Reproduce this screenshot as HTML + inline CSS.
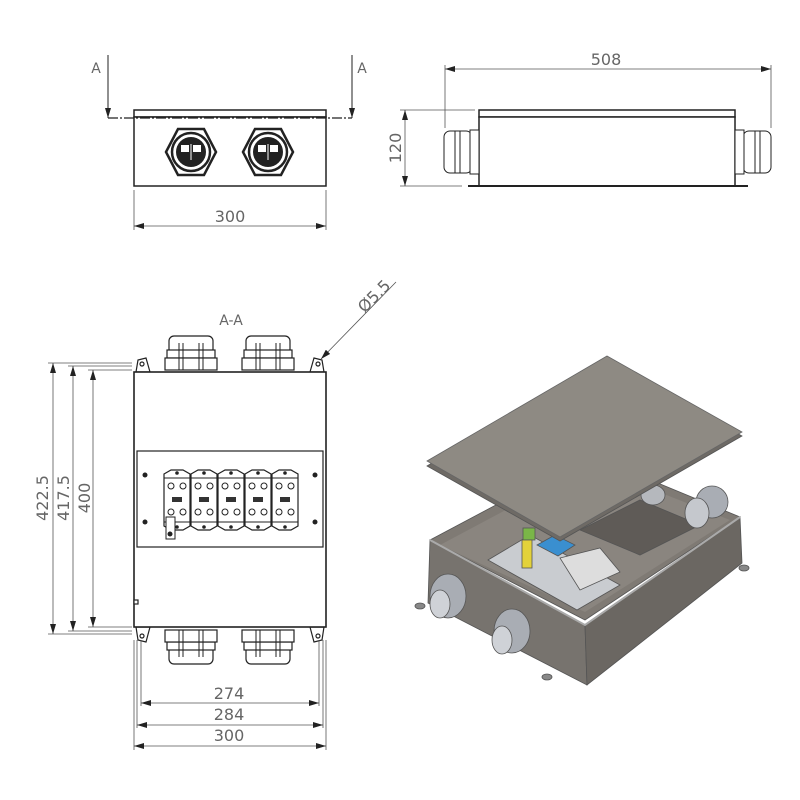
<!DOCTYPE html>
<html><head><meta charset="utf-8"><style>
html,body{margin:0;padding:0;background:#fff}
svg{display:block}
text{font-family:"DejaVu Sans","Liberation Sans",sans-serif;fill:#666}
</style></head><body>
<svg width="800" height="800" viewBox="0 0 800 800" xmlns="http://www.w3.org/2000/svg">
<defs>
<marker id="ar" viewBox="0 0 10 6" refX="10" refY="3" markerWidth="10" markerHeight="6" orient="auto-start-reverse" markerUnits="userSpaceOnUse"><path d="M0,0 L10,3 L0,6 z" fill="#222"/></marker>
<g id="gt">
  <rect x="-22" y="-21" width="44" height="18" rx="5" fill="#fff" stroke="#222" stroke-width="1.2"/>
  <rect x="-24" y="-7" width="48" height="8" fill="#fff" stroke="#222" stroke-width="1.2"/>
  <rect x="-26" y="1" width="52" height="12" fill="#fff" stroke="#222" stroke-width="1.2"/>
  <line x1="-12" y1="-14" x2="-12" y2="13" stroke="#222"/><line x1="-8" y1="-14" x2="-8" y2="13" stroke="#222"/>
  <line x1="8" y1="-14" x2="8" y2="13" stroke="#222"/><line x1="12" y1="-14" x2="12" y2="13" stroke="#222"/>
</g>
<g id="term">
  <path d="M-13,-26 L-6,-30 L6,-30 L13,-26 L13,26 L6,30 L-6,30 L-13,26 z" fill="#fff" stroke="#222" stroke-width="1.2"/>
  <circle cx="-6" cy="-14" r="3" fill="none" stroke="#222"/><circle cx="6" cy="-14" r="3" fill="none" stroke="#222"/>
  <circle cx="-6" cy="12" r="3" fill="none" stroke="#222"/><circle cx="6" cy="12" r="3" fill="none" stroke="#222"/>
  <rect x="-5" y="-3" width="10" height="5" fill="#333"/>
  <line x1="-13" y1="-22" x2="13" y2="-22" stroke="#222"/><line x1="-13" y1="22" x2="13" y2="22" stroke="#222"/>
  <circle cx="0" cy="-27" r="1.8" fill="#222"/><circle cx="0" cy="27" r="1.8" fill="#222"/>
</g>
<g id="tg">
  <polygon points="-25,0 -13,-23 13,-23 25,0 13,23 -13,23" fill="#fff" stroke="#222" stroke-width="2.5"/>
  <circle r="19" fill="#fff" stroke="#222" stroke-width="2.5"/><circle r="15" fill="#222"/>
  <rect x="-10" y="-7" width="8" height="7" fill="#fff"/><rect x="2" y="-7" width="8" height="7" fill="#fff"/>
  <line x1="0" y1="-8" x2="0" y2="8" stroke="#fff"/>
</g>
</defs>

<!-- TOP-LEFT VIEW -->
<g stroke="#222" fill="none">
  <rect x="134" y="110" width="192" height="7" stroke-width="1.5" fill="#fff"/>
  <rect x="134" y="117" width="192" height="69" stroke-width="1.5" fill="#fff"/>
  <line x1="108" y1="118" x2="352" y2="118" stroke-dasharray="10,2,2,2" stroke-width="1.2"/>
  <line x1="108" y1="55" x2="108" y2="118" marker-end="url(#ar)"/>
  <line x1="352" y1="55" x2="352" y2="118" marker-end="url(#ar)"/>
</g>
<use href="#tg" transform="translate(191,152)"/>
<use href="#tg" transform="translate(268,152)"/>
<text x="96" y="73" font-size="14" text-anchor="middle" fill="#333">A</text>
<text x="362" y="73" font-size="14" text-anchor="middle" fill="#333">A</text>
<g stroke="#555" stroke-width="0.8">
  <line x1="134" y1="190" x2="134" y2="230"/><line x1="326" y1="190" x2="326" y2="230"/>
  <line x1="134" y1="226" x2="326" y2="226" marker-start="url(#ar)" marker-end="url(#ar)"/>
</g>
<text x="230" y="222" font-size="16" text-anchor="middle">300</text>

<!-- TOP-RIGHT VIEW -->
<g stroke="#222" fill="#fff">
  <rect x="479" y="110" width="256" height="7" stroke-width="1.5"/>
  <rect x="479" y="117" width="256" height="69" stroke-width="1.5"/>
  <line x1="468" y1="186" x2="748" y2="186" stroke-width="2"/>
  <rect x="444" y="131" width="28" height="42" rx="6"/><rect x="470" y="130" width="9" height="44"/>
  <line x1="455" y1="131" x2="455" y2="173"/><line x1="460" y1="131" x2="460" y2="173"/>
  <rect x="743" y="131" width="28" height="42" rx="6"/><rect x="735" y="130" width="9" height="44"/>
  <line x1="755" y1="131" x2="755" y2="173"/><line x1="760" y1="131" x2="760" y2="173"/>
</g>
<g stroke="#555" stroke-width="0.8">
  <line x1="445" y1="65" x2="445" y2="128"/><line x1="771" y1="65" x2="771" y2="128"/>
  <line x1="445" y1="69" x2="771" y2="69" marker-start="url(#ar)" marker-end="url(#ar)"/>
  <line x1="400" y1="110" x2="475" y2="110"/><line x1="400" y1="186" x2="462" y2="186"/>
  <line x1="405" y1="110" x2="405" y2="186" marker-start="url(#ar)" marker-end="url(#ar)"/>
</g>
<text x="606" y="65" font-size="16" text-anchor="middle">508</text>
<text transform="translate(401,148) rotate(-90)" font-size="16" text-anchor="middle">120</text>

<!-- SECTION A-A -->
<text x="231" y="325" font-size="14" text-anchor="middle">A-A</text>
<g stroke="#222" fill="#fff" stroke-width="1.2">
  <path d="M136,372 L138,360 L146,358 L150,372 z"/><circle cx="142" cy="364" r="2"/>
  <path d="M310,372 L314,358 L322,360 L324,372 z"/><circle cx="318" cy="364" r="2"/>
  <path d="M136,627 L138,640 L146,642 L150,627 z"/><circle cx="142" cy="636" r="2"/>
  <path d="M310,627 L314,642 L322,640 L324,627 z"/><circle cx="318" cy="636" r="2"/>
  <rect x="134" y="372" width="192" height="255" stroke-width="1.6"/>
  <rect x="137" y="451" width="186" height="96"/>
  <rect x="134" y="600" width="4" height="4"/>
</g>
<use href="#gt" transform="translate(191,357)"/>
<use href="#gt" transform="translate(268,357)"/>
<use href="#gt" transform="translate(191,643) scale(1,-1)"/>
<use href="#gt" transform="translate(268,643) scale(1,-1)"/>
<g fill="#222">
  <circle cx="145" cy="475" r="2.5"/><circle cx="145" cy="522" r="2.5"/>
  <circle cx="315" cy="475" r="2.5"/><circle cx="315" cy="522" r="2.5"/>
</g>
<use href="#term" transform="translate(177,500)"/>
<use href="#term" transform="translate(204,500)"/>
<use href="#term" transform="translate(231,500)"/>
<use href="#term" transform="translate(258,500)"/>
<use href="#term" transform="translate(285,500)"/>
<rect x="166" y="517" width="9" height="22" fill="#fff" stroke="#222"/>
<circle cx="170" cy="534" r="2.5" fill="#222"/>
<g stroke="#555" stroke-width="0.8" fill="none">
  <line x1="48" y1="363" x2="132" y2="363"/><line x1="68" y1="366" x2="132" y2="366"/><line x1="88" y1="370" x2="132" y2="370"/>
  <line x1="48" y1="634" x2="132" y2="634"/><line x1="68" y1="631" x2="132" y2="631"/><line x1="88" y1="627" x2="132" y2="627"/>
  <line x1="53" y1="363" x2="53" y2="634" marker-start="url(#ar)" marker-end="url(#ar)"/>
  <line x1="73" y1="366" x2="73" y2="631" marker-start="url(#ar)" marker-end="url(#ar)"/>
  <line x1="93" y1="370" x2="93" y2="627" marker-start="url(#ar)" marker-end="url(#ar)"/>
  <line x1="134" y1="640" x2="134" y2="750"/><line x1="326" y1="640" x2="326" y2="750"/>
  <line x1="137" y1="640" x2="137" y2="728"/><line x1="323" y1="640" x2="323" y2="728"/>
  <line x1="141" y1="640" x2="141" y2="706"/><line x1="319" y1="640" x2="319" y2="706"/>
  <line x1="141" y1="703" x2="319" y2="703" marker-start="url(#ar)" marker-end="url(#ar)"/>
  <line x1="137" y1="725" x2="323" y2="725" marker-start="url(#ar)" marker-end="url(#ar)"/>
  <line x1="134" y1="746" x2="326" y2="746" marker-start="url(#ar)" marker-end="url(#ar)"/>
  <line x1="396" y1="282" x2="321" y2="359" marker-end="url(#ar)"/>
</g>
<text transform="translate(48,498) rotate(-90)" font-size="16" text-anchor="middle">422.5</text>
<text transform="translate(69,498) rotate(-90)" font-size="16" text-anchor="middle">417.5</text>
<text transform="translate(90,498) rotate(-90)" font-size="16" text-anchor="middle">400</text>
<text x="229" y="699" font-size="16" text-anchor="middle">274</text>
<text x="229" y="720" font-size="16" text-anchor="middle">284</text>
<text x="229" y="741" font-size="16" text-anchor="middle">300</text>
<text transform="translate(378,300) rotate(-45)" font-size="16" text-anchor="middle">Ø5.5</text>

<!-- ISOMETRIC -->
<g stroke="#555" stroke-width="0.8">
  <polygon points="430,540 590,455 740,517 585,620" fill="#7f7a74"/>
  <polygon points="440,545 590,465 730,520 585,612" fill="#8a857f" stroke="none"/>
  <polygon points="580,530 640,500 700,525 640,555" fill="#5f5b57"/>
  <polygon points="430,540 585,625 587,685 428,603" fill="#77736e"/>
  <polygon points="585,625 740,517 742,563 587,685" fill="#6b6762"/>
  <polyline points="430,540 585,625 740,517" fill="none" stroke="#aaa" stroke-width="2"/>
  <polygon points="488,560 530,535 620,585 577,610" fill="#c9ccd0"/>
  <rect x="523" y="528" width="12" height="12" fill="#7ab648"/>
  <rect x="522" y="540" width="10" height="28" fill="#e3d23a"/>
  <polygon points="537,545 555,535 575,545 558,556" fill="#3a8fd0"/>
  <polygon points="560,558 600,548 620,572 580,590" fill="#ddd"/>
  <ellipse cx="448" cy="596" rx="18" ry="22" fill="#a9adb4"/><ellipse cx="440" cy="604" rx="10" ry="14" fill="#cfd2d7"/>
  <ellipse cx="512" cy="631" rx="18" ry="22" fill="#a9adb4"/><ellipse cx="502" cy="640" rx="10" ry="14" fill="#cfd2d7"/>
  <ellipse cx="712" cy="502" rx="16" ry="16" fill="#a9adb4"/><ellipse cx="697" cy="513" rx="12" ry="15" fill="#c5c8cd"/>
  <ellipse cx="653" cy="495" rx="12" ry="10" fill="#b5b8bd"/>
  <ellipse cx="420" cy="606" rx="5" ry="3" fill="#888"/><ellipse cx="547" cy="677" rx="5" ry="3" fill="#888"/><ellipse cx="744" cy="568" rx="5" ry="3" fill="#888"/>
  <polygon points="427,466 607,361 742,436 560,541" fill="#6e6a65"/>
  <polygon points="427,461 607,356 742,432 560,537" fill="#8e8a83" stroke="#666"/>
</g>
</svg>
</body></html>
